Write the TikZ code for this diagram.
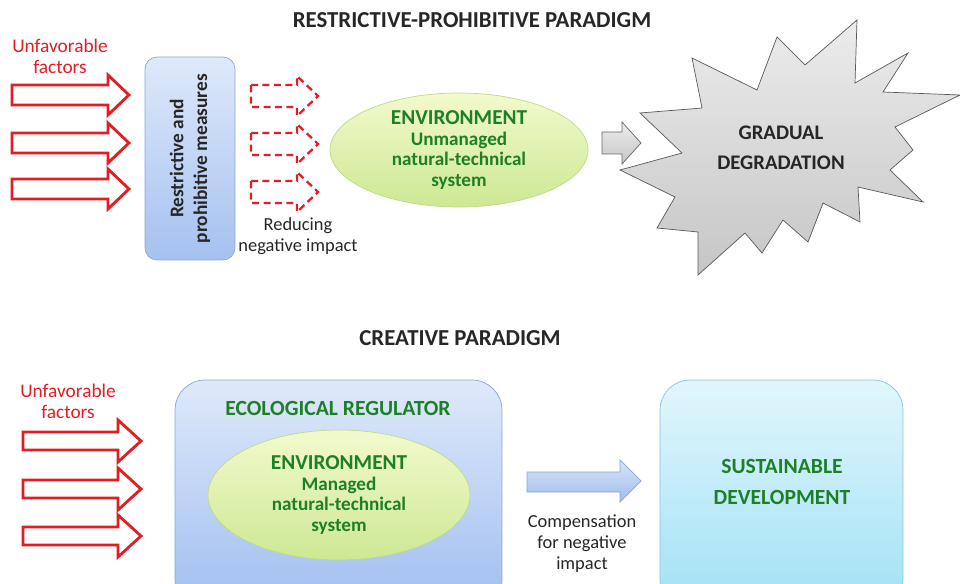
\documentclass[tikz,border=0pt]{standalone}
\usepackage{fontspec}
\setmainfont{Carlito}
\usepackage{tikz}
\usetikzlibrary{shapes.geometric}

\definecolor{factred}{RGB}{226,30,36}
\definecolor{ecogreen}{RGB}{30,128,38}
\definecolor{darktext}{RGB}{38,38,38}

\tikzset{
  titletext/.style={font=\fontsize{13}{15}\selectfont\bfseries, text=darktext},
  redtext/.style={font=\fontsize{11}{12}\selectfont, text=factred, align=center},
  graytext/.style={font=\fontsize{10.5}{11.6}\selectfont, text=darktext, align=center},
  greenhead/.style={font=\fontsize{12.3}{18}\selectfont\bfseries, text=ecogreen, align=center},
  redarrow/.style={draw=factred, line width=1.6pt, fill=white, line join=miter},
  dasharrow/.style={draw=factred, line width=1.3pt, dash pattern=on 4pt off 2.5pt, line join=miter},
  measurebox/.style={draw={rgb,255:red,140;green,165;blue,210}, top color={rgb,255:red,222;green,233;blue,250},
    bottom color={rgb,255:red,165;green,193;blue,240}, rounded corners=0.24cm, inner sep=0pt},
  envell/.style={ellipse, draw={rgb,255:red,190;green,218;blue,135}, top color={rgb,255:red,242;green,250;blue,205},
    bottom color={rgb,255:red,205;green,232;blue,148}, inner sep=0pt, text=ecogreen, align=center,
    font=\fontsize{10.9}{11.8}\selectfont\bfseries},
  regbox/.style={draw={rgb,255:red,140;green,165;blue,210}, top color={rgb,255:red,222;green,233;blue,250},
    bottom color={rgb,255:red,160;green,190;blue,240}, rounded corners=0.6cm, inner sep=0pt},
  sustbox/.style={draw={rgb,255:red,135;green,195;blue,215}, top color={rgb,255:red,225;green,246;blue,252},
    bottom color={rgb,255:red,160;green,225;blue,245}, rounded corners=0.6cm, inner sep=0pt},
}

\begin{document}
\begin{tikzpicture}[x=0.02cm,y=-0.02cm]
\useasboundingbox (0,0) rectangle (960,584);
\clip (0,0) rectangle (960,584);
%TOP
\node[titletext] (titleRP) at (472,20) {RESTRICTIVE-PROHIBITIVE PARADIGM};
\node[redtext] (unfavTop) at (60,56) {Unfavorable\\factors};
\draw[redarrow] (12,85)--(108,85)--(108,75)--(129,95)--(108,115)--(108,105)--(12,105)--cycle;
\draw[redarrow] (12,133)--(108,133)--(108,123)--(129,143)--(108,163)--(108,153)--(12,153)--cycle;
\draw[redarrow] (12,179)--(108,179)--(108,169)--(129,189)--(108,209)--(108,199)--(12,199)--cycle;
\node[measurebox, minimum width=1.8cm, minimum height=4.06cm] (measures) at (190,158.5) {};
\node[rotate=90, align=center, text=darktext, font=\fontsize{11}{13.6}\selectfont\bfseries] (measuresTxt) at (measures.center) {Restrictive and\\prohibitive measures};
\draw[dasharrow] (251,85)--(297,85)--(297,76)--(318,96)--(297,116)--(297,107)--(251,107)--cycle;
\draw[dasharrow] (251,133)--(297,133)--(297,124)--(318,144)--(297,164)--(297,155)--(251,155)--cycle;
\draw[dasharrow] (251,181)--(297,181)--(297,172)--(318,192)--(297,212)--(297,203)--(251,203)--cycle;
\node[graytext] (reducing) at (298,236) {Reducing\\negative impact};
\node[envell, minimum width=5.16cm, minimum height=2.28cm] (envTop) at (459,150) {{\fontsize{12.1}{13}\selectfont ENVIRONMENT}\\Unmanaged\\natural-technical\\system};
\draw[draw=gray!80!black, top color=gray!15, bottom color=gray!45] (602,132)--(622,132)--(622,122)--(641,143)--(622,164)--(622,154)--(602,154)--cycle;
% Degradation
\draw[draw=gray!70!black, top color=gray!15, bottom color=gray!45] (640,113)--(702,108)--(692,58)--(757,90)--(777,37)--(805,65)--(857,20)--(855,83)--(908,53)--(883,92)--(960,95)--(895,127)--(913,150)--(890,170)--(923,202)--(858,187)--(860,222)--(823,203)--(808,242)--(783,220)--(762,253)--(745,233)--(698,275)--(698,232)--(657,228)--(675,197)--(620,170)--(682,153)--cycle;
\node[align=center, text=darktext, font=\fontsize{11.8}{17}\selectfont\bfseries] (degradation) at (781,148) {GRADUAL\\DEGRADATION};
%BOT
\node[titletext] (titleCr) at (460,338) {CREATIVE PARADIGM};
\node[redtext] (unfavBot) at (68,401) {Unfavorable\\factors};
\draw[redarrow] (23,432)--(118,432)--(118,420)--(141,441)--(118,462)--(118,450)--(23,450)--cycle;
\draw[redarrow] (23,480)--(118,480)--(118,468)--(141,489)--(118,510)--(118,498)--(23,498)--cycle;
\draw[redarrow] (23,527)--(118,527)--(118,515)--(141,536)--(118,557)--(118,545)--(23,545)--cycle;
\node[regbox, minimum width=6.54cm, minimum height=4.6cm] (regulator) at (338.5,495) {};
\node[greenhead] (regulatorTxt) at (338,408) {ECOLOGICAL REGULATOR};
\node[envell, minimum width=5.24cm, minimum height=2.6cm] (envBot) at (339,495) {{\fontsize{12.1}{13}\selectfont ENVIRONMENT}\\Managed\\natural-technical\\system};
\draw[draw={rgb,255:red,140;green,165;blue,210}, top color={rgb,255:red,215;green,228;blue,248}, bottom color={rgb,255:red,160;green,188;blue,235}] (527,472)--(620,472)--(620,460)--(641,481)--(620,502)--(620,492)--(527,492)--cycle;
\node[graytext, font=\fontsize{10.5}{12}\selectfont] (compens) at (582,544) {Compensation\\for negative\\impact};
\node[sustbox, minimum width=4.86cm, minimum height=4.6cm] (sustain) at (781.5,495) {};
\node[greenhead] (sustainTxt) at (782,482) {SUSTAINABLE\\DEVELOPMENT};
\end{tikzpicture}
\end{document}
